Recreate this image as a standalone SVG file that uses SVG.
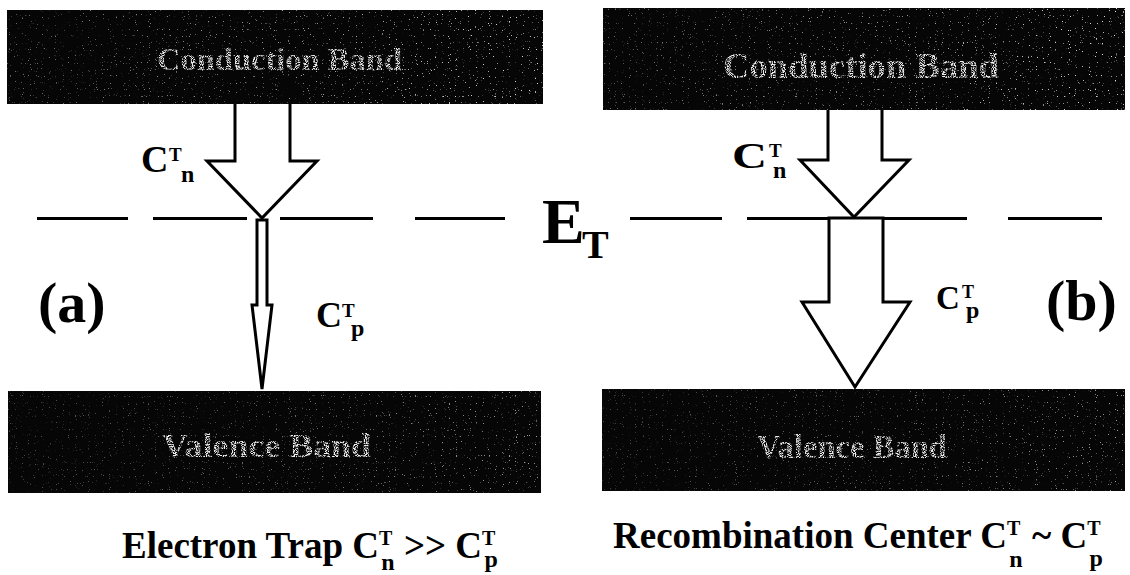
<svg xmlns="http://www.w3.org/2000/svg" width="1130" height="575" viewBox="0 0 1130 575">
<defs>
<filter id="speckle" x="0" y="0" width="100%" height="100%">
<feTurbulence type="fractalNoise" baseFrequency="0.85" numOctaves="1" seed="7" result="n"/>
<feColorMatrix in="n" type="matrix" values="0 0 0 0 0.75  0 0 0 0 0.75  0 0 0 0 0.75  14 0 0 0 -9.4"/>
<feComposite in2="SourceGraphic" operator="in"/>
</filter>
<filter id="speckleText" x="0" y="0" width="100%" height="100%">
<feTurbulence type="fractalNoise" baseFrequency="0.9" numOctaves="1" seed="2" result="n"/>
<feColorMatrix in="n" type="matrix" values="0 0 0 0 0.85  0 0 0 0 0.85  0 0 0 0 0.85  5 0 0 0 -2"/>
<feComposite in2="SourceGraphic" operator="in"/>
</filter>
<linearGradient id="fadeR" x1="0" x2="1" y1="0" y2="0">
<stop offset="0" stop-color="#fff" stop-opacity="0.45"/>
<stop offset="0.6" stop-color="#fff" stop-opacity="0.7"/>
<stop offset="1" stop-color="#fff" stop-opacity="1"/>
</linearGradient>
</defs>
<style>
.band{fill:#060606}
.bt{font-family:"Liberation Serif","Times New Roman",serif;font-weight:bold;fill:#9a9a9a}
.t{font-family:"Liberation Serif","Times New Roman",serif;font-weight:bold;fill:#000}
.arrow{fill:#fff;stroke:#000;stroke-width:3;stroke-linejoin:miter}
.lvl{stroke:#000;stroke-width:3}
</style>
<rect width="1130" height="575" fill="#fff"/>

<g id="conduction-band-a">
<rect class="band" x="7" y="10" width="536" height="94"/>
<rect x="7" y="10" width="536" height="94" fill="url(#fadeR)" filter="url(#speckle)"/>
<text class="bt" x="157" y="70" font-size="31" textLength="245" lengthAdjust="spacingAndGlyphs" filter="url(#speckleText)">Conduction Band</text>
</g>
<g id="conduction-band-b">
<rect class="band" x="603" y="8" width="522" height="102"/>
<rect x="603" y="8" width="522" height="102" fill="url(#fadeR)" filter="url(#speckle)"/>
<text class="bt" x="723" y="78" font-size="36" textLength="276" lengthAdjust="spacingAndGlyphs" filter="url(#speckleText)">Conduction Band</text>
</g>
<g id="valence-band-a">
<rect class="band" x="8" y="391" width="533" height="102"/>
<rect x="8" y="391" width="533" height="102" fill="url(#fadeR)" filter="url(#speckle)" opacity="0.7"/>
<text class="bt" x="162" y="457" font-size="33" textLength="209" lengthAdjust="spacingAndGlyphs" filter="url(#speckleText)">Valence Band</text>
</g>
<g id="valence-band-b">
<rect class="band" x="602" y="389" width="523" height="102"/>
<rect x="602" y="389" width="523" height="102" fill="url(#fadeR)" filter="url(#speckle)" opacity="0.7"/>
<text class="bt" x="757" y="458" font-size="34" textLength="190" lengthAdjust="spacingAndGlyphs" filter="url(#speckleText)">Valence Band</text>
</g>

<g id="trap-level">
<path class="lvl" d="M37,218.5H128M153,218.5H247M280,218.5H373M415,218.5H505M630,218.5H722M747,218.5H967M1008,218.5H1102"/>
<text class="t" x="542" y="243" font-size="64">E</text>
<text class="t" x="582" y="258" font-size="40">T</text>
</g>

<g id="connectors">
<path class="arrow" d="M235,104V161H207L262,218L317,161H290V104"/>
<path class="arrow" d="M257,220V305H252L262,389L272,305H267V220Z"/>
<path class="arrow" d="M828,110V160H800L854,217L909,160H882V110"/>
<path class="arrow" d="M829,218V302H802L855,387L910,302H883V218Z"/>
</g>

<g id="label-cn-a">
<text class="t" x="141" y="172" font-size="38">C</text>
<text class="t" x="169" y="161" font-size="19">T</text>
<text class="t" x="181" y="182" font-size="24">n</text>
</g>
<g id="label-cp-a">
<text class="t" x="316" y="327" font-size="36">C</text>
<text class="t" x="342" y="317" font-size="19">T</text>
<text class="t" x="351" y="336" font-size="24">p</text>
</g>
<g id="label-cn-b">
<text class="t" x="732" y="168" font-size="36" textLength="35" lengthAdjust="spacingAndGlyphs">C</text>
<text class="t" x="769" y="157" font-size="19">T</text>
<text class="t" x="773" y="178" font-size="24">n</text>
</g>
<g id="label-cp-b">
<text class="t" x="936" y="309" font-size="33">C</text>
<text class="t" x="962" y="298" font-size="18">T</text>
<text class="t" x="966" y="318" font-size="24">p</text>
</g>

<g id="label-a">
<text class="t" x="38" y="322" font-size="58">(a)</text>
</g>
<g id="label-b">
<text class="t" x="1046" y="320" font-size="58">(b)</text>
</g>

<g id="caption-a">
<text class="t" x="122" y="558" font-size="37">Electron Trap C<tspan font-size="20" dy="-13">T</tspan><tspan font-size="24" dx="-11" dy="25">n</tspan><tspan dy="-12"> &gt;&gt; C</tspan><tspan font-size="20" dy="-13">T</tspan><tspan font-size="24" dx="-11" dy="22">p</tspan></text>
</g>
<g id="caption-b">
<text class="t" x="613" y="548" font-size="37">Recombination Center C<tspan font-size="20" dy="-13">T</tspan><tspan font-size="24" dx="-11" dy="32">n</tspan><tspan dy="-19"> ~ C</tspan><tspan font-size="20" dy="-13">T</tspan><tspan font-size="24" dx="-11" dy="31">p</tspan></text>
</g>
</svg>
